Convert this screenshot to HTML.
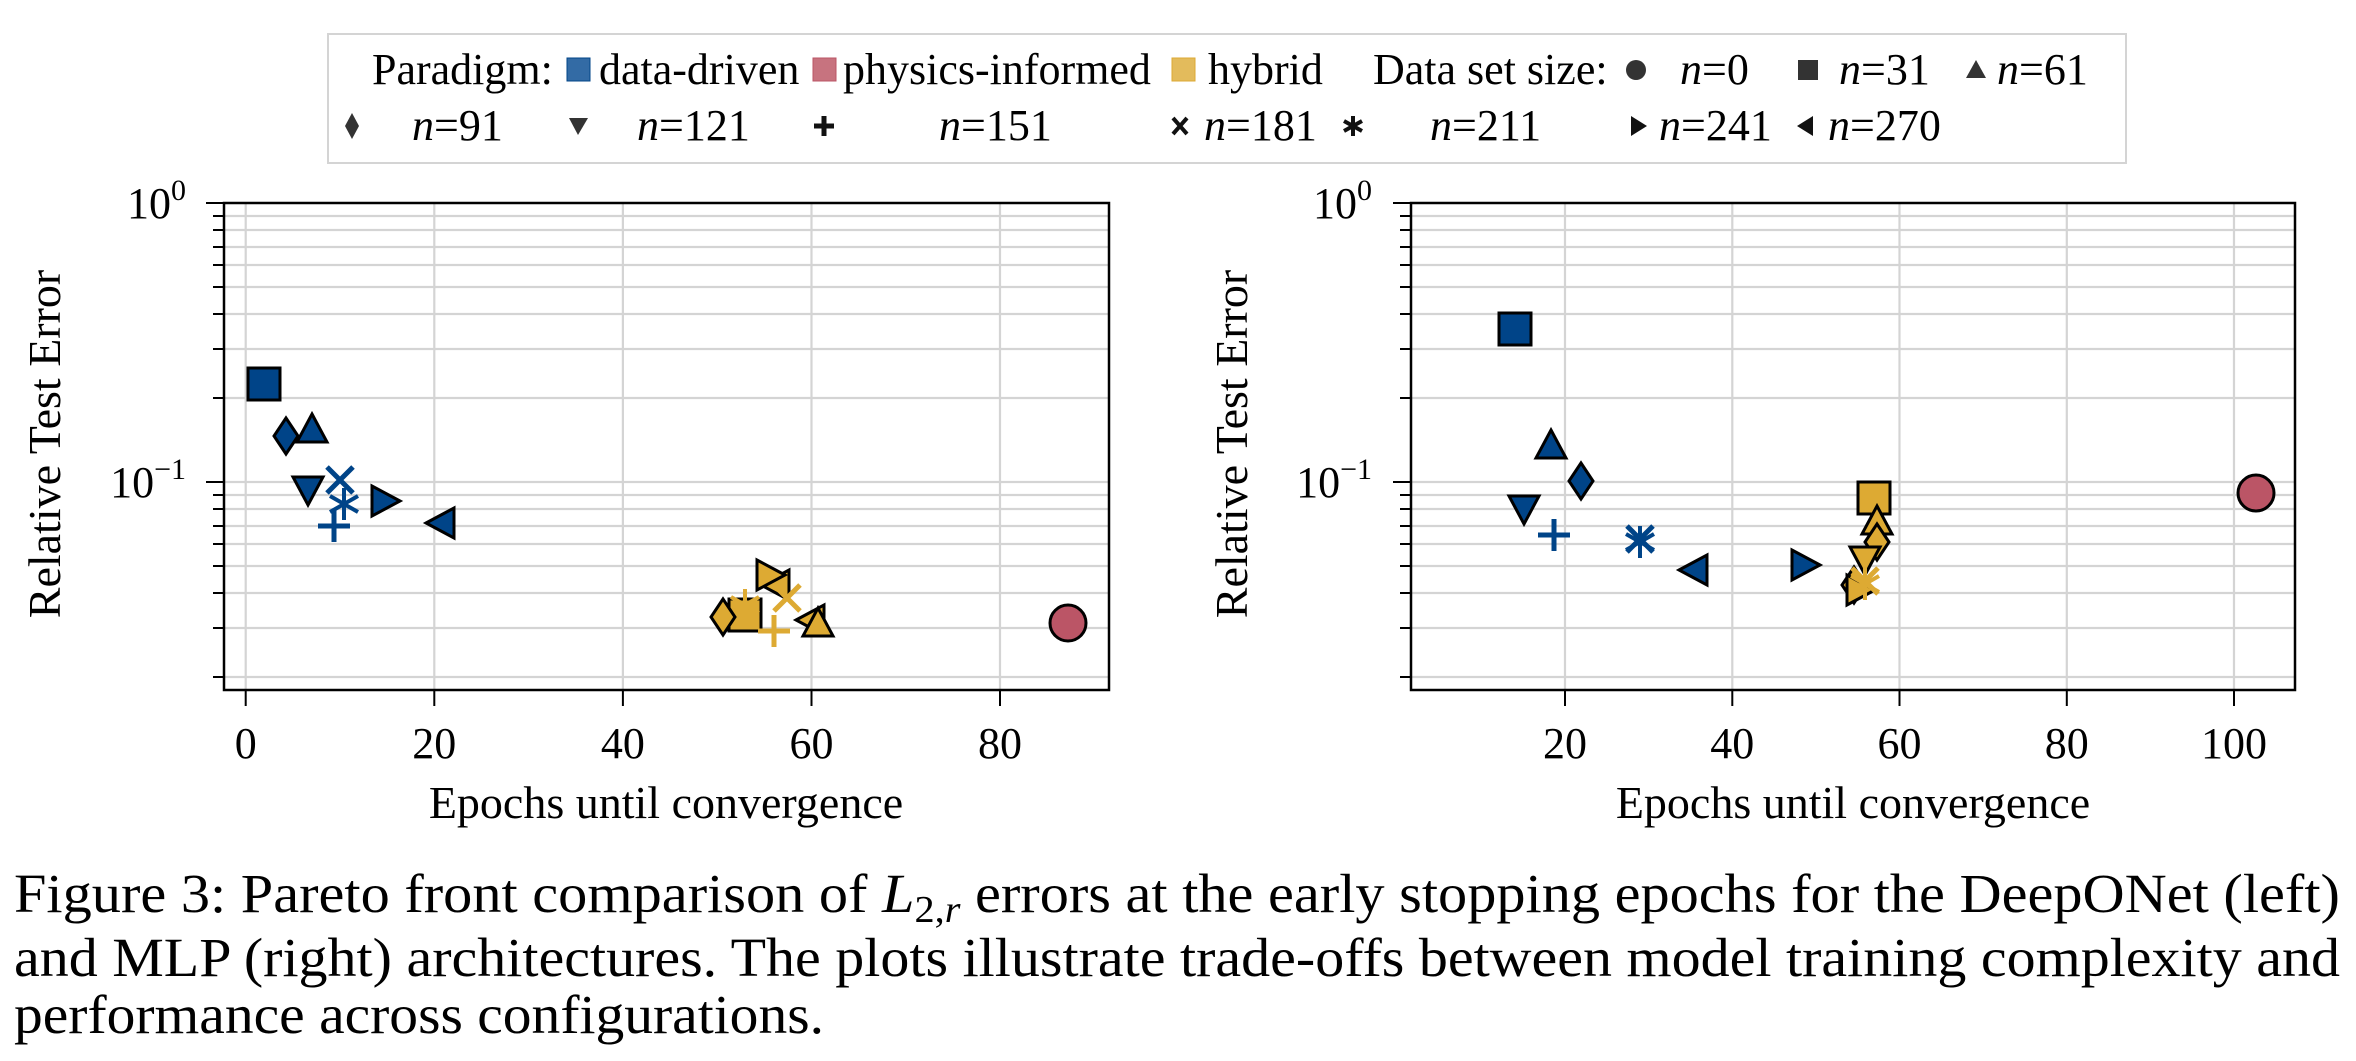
<!DOCTYPE html>
<html><head><meta charset="utf-8"><style>
html,body{margin:0;padding:0;background:#fff;}
svg{display:block;font-family:"Liberation Serif",serif;}
</style></head><body>
<svg width="2356" height="1061" viewBox="0 0 2356 1061" xmlns="http://www.w3.org/2000/svg">
<defs>
<g id="sq"><rect x="-16" y="-16" width="32" height="32" stroke="#000" stroke-width="3"/></g>
<g id="di"><polygon points="0,-18 12,0 0,18 -12,0" stroke="#000" stroke-width="3"/></g>
<g id="tu"><polygon points="0,-17 15,11 -15,11" stroke="#000" stroke-width="3"/></g>
<g id="td"><polygon points="0,17 15,-11 -15,-11" stroke="#000" stroke-width="3"/></g>
<g id="tr"><polygon points="17,0 -11,-15 -11,15" stroke="#000" stroke-width="3"/></g>
<g id="tl"><polygon points="-17,0 11,-15 11,15" stroke="#000" stroke-width="3"/></g>
<g id="ci"><circle r="18" stroke="#000" stroke-width="3"/></g>
<g id="pl"><path d="M-16,0H16M0,-16V16" stroke-width="5"/></g>
<g id="xx"><path d="M-13,-13L13,13M-13,13L13,-13" stroke-width="5"/></g>
<g id="as"><path d="M0,-16V16M-14,-8L14,8M-14,8L14,-8" stroke-width="4"/></g>
</defs>

<!-- Legend -->
<rect x="328" y="34" width="1798" height="129" fill="#fff" stroke="#d4d4d4" stroke-width="2"/>
<g font-size="44" fill="#000">
<text x="372" y="84">Paradigm:</text>
<rect x="567" y="58" width="23" height="23" fill="#336ba5" stroke="#004488" stroke-width="1"/>
<text x="599" y="84">data-driven</text>
<rect x="813" y="58" width="23" height="23" fill="#c7737f" stroke="#bb5566" stroke-width="1"/>
<text x="843" y="84">physics-informed</text>
<rect x="1172" y="58" width="23" height="23" fill="#e3bb5c" stroke="#ddaa33" stroke-width="1"/>
<text x="1208" y="84">hybrid</text>
<text x="1373" y="84">Data set size:</text>
<circle cx="1636" cy="70" r="10" fill="#333"/>
<text x="1680" y="84" font-style="italic">n<tspan font-style="normal">=0</tspan></text>
<rect x="1798" y="60" width="20" height="20" fill="#333"/>
<text x="1839" y="84" font-style="italic">n<tspan font-style="normal">=31</tspan></text>
<polygon points="1976,60 1986,78 1966,78" fill="#333"/>
<text x="1997" y="84" font-style="italic">n<tspan font-style="normal">=61</tspan></text>

<polygon points="352,113 359,126 352,139 345,126" fill="#333"/>
<text x="412" y="140" font-style="italic">n<tspan font-style="normal">=91</tspan></text>
<polygon points="569,118 588,118 578,135" fill="#333"/>
<text x="637" y="140" font-style="italic">n<tspan font-style="normal">=121</tspan></text>
<path d="M814,126H834M824,116V136" stroke="#111" stroke-width="5"/>
<text x="939" y="140" font-style="italic">n<tspan font-style="normal">=151</tspan></text>
<path d="M1173,118L1187,134M1173,134L1187,118" stroke="#111" stroke-width="4"/>
<text x="1204" y="140" font-style="italic">n<tspan font-style="normal">=181</tspan></text>
<path d="M1353,116V136M1344,121L1362,131M1344,131L1362,121" stroke="#111" stroke-width="4"/>
<text x="1430" y="140" font-style="italic">n<tspan font-style="normal">=211</tspan></text>
<polygon points="1631,116 1647,126 1631,136" fill="#111"/>
<text x="1659" y="140" font-style="italic">n<tspan font-style="normal">=241</tspan></text>
<polygon points="1813,116 1797,126 1813,136" fill="#111"/>
<text x="1828" y="140" font-style="italic">n<tspan font-style="normal">=270</tspan></text>
</g>

<!-- LEFT PLOT -->
<g stroke="#d4d4d4" stroke-width="2.2">
<path d="M224,216H1109M224,230H1109M224,247H1109M224,265H1109M224,287H1109M224,314H1109M224,349H1109M224,398H1109M224,482H1109M224,495H1109M224,509H1109M224,526H1109M224,544H1109M224,566H1109M224,593H1109M224,628H1109M224,677H1109"/>
<path d="M245.7,203V690M434.3,203V690M622.9,203V690M811.5,203V690M1000,203V690"/>
</g>
<g stroke="#000" stroke-width="2">
<path d="M213,216H224M213,230H224M213,247H224M213,265H224M213,287H224M213,314H224M213,349H224M213,398H224M213,495H224M213,509H224M213,526H224M213,544H224M213,566H224M213,593H224M213,628H224M213,677H224"/>
<path d="M206,203H224M206,482H224"/>
<path d="M245.7,690V706M434.3,690V706M622.9,690V706M811.5,690V706M1000,690V706"/>
</g>
<rect x="224" y="203" width="885" height="487" fill="none" stroke="#000" stroke-width="2.5"/>
<g font-size="44" text-anchor="middle">
<text x="245.7" y="758">0</text><text x="434.3" y="758">20</text><text x="622.9" y="758">40</text><text x="811.5" y="758">60</text><text x="1000" y="758">80</text>
<text x="666" y="818" font-size="46">Epochs until convergence</text>
<text transform="translate(60,444) rotate(-90)" font-size="46">Relative Test Error</text>
</g>
<g font-size="44" text-anchor="end">
<text x="186" y="218">10<tspan font-size="30" dy="-18">0</tspan></text>
<text x="186" y="497">10<tspan font-size="30" dy="-18">−1</tspan></text>
</g>
<g fill="#004488" stroke="#004488">
<use href="#sq" x="264" y="384"/>
<use href="#di" x="286" y="436"/>
<use href="#tu" x="312" y="431"/>
<use href="#td" x="308" y="488"/>
<use href="#xx" x="340" y="480"/>
<use href="#as" x="344" y="504"/>
<use href="#pl" x="334" y="526"/>
<use href="#tr" x="383" y="501"/>
<use href="#tl" x="443" y="523"/>
</g>
<g fill="#ddaa33" stroke="#ddaa33">
<use href="#tl" x="778" y="585"/>
<use href="#tr" x="768" y="575"/>
<use href="#xx" x="787" y="598"/>
<use href="#sq" x="745" y="615"/>
<use href="#as" x="745" y="605"/>
<use href="#di" x="723" y="617"/>
<use href="#pl" x="774" y="631"/>
<use href="#tl" x="813" y="620"/>
<use href="#tu" x="818" y="625"/>
</g>
<g fill="#bb5566"><use href="#ci" x="1068" y="623"/></g>

<!-- RIGHT PLOT -->
<g stroke="#d4d4d4" stroke-width="2.2">
<path d="M1411,216H2295M1411,230H2295M1411,247H2295M1411,265H2295M1411,287H2295M1411,314H2295M1411,349H2295M1411,398H2295M1411,482H2295M1411,495H2295M1411,509H2295M1411,526H2295M1411,544H2295M1411,566H2295M1411,593H2295M1411,628H2295M1411,677H2295"/>
<path d="M1565,203V690M1732.3,203V690M1899.5,203V690M2066.8,203V690M2234,203V690"/>
</g>
<g stroke="#000" stroke-width="2">
<path d="M1400,216H1411M1400,230H1411M1400,247H1411M1400,265H1411M1400,287H1411M1400,314H1411M1400,349H1411M1400,398H1411M1400,495H1411M1400,509H1411M1400,526H1411M1400,544H1411M1400,566H1411M1400,593H1411M1400,628H1411M1400,677H1411"/>
<path d="M1393,203H1411M1393,482H1411"/>
<path d="M1565,690V706M1732.3,690V706M1899.5,690V706M2066.8,690V706M2234,690V706"/>
</g>
<rect x="1411" y="203" width="884" height="487" fill="none" stroke="#000" stroke-width="2.5"/>
<g font-size="44" text-anchor="middle">
<text x="1565" y="758">20</text><text x="1732.3" y="758">40</text><text x="1899.5" y="758">60</text><text x="2066.8" y="758">80</text><text x="2234" y="758">100</text>
<text x="1853" y="818" font-size="46">Epochs until convergence</text>
<text transform="translate(1247,444) rotate(-90)" font-size="46">Relative Test Error</text>
</g>
<g font-size="44" text-anchor="end">
<text x="1372" y="218">10<tspan font-size="30" dy="-18">0</tspan></text>
<text x="1372" y="497">10<tspan font-size="30" dy="-18">−1</tspan></text>
</g>
<g fill="#004488" stroke="#004488">
<use href="#sq" x="1515" y="329"/>
<use href="#tu" x="1551" y="447"/>
<use href="#di" x="1581" y="481"/>
<use href="#td" x="1524" y="507"/>
<use href="#pl" x="1554" y="535"/>
<use href="#xx" x="1640" y="539"/>
<use href="#as" x="1640" y="542"/>
<use href="#tl" x="1696" y="570"/>
<use href="#tr" x="1803" y="565"/>
</g>
<g fill="#ddaa33" stroke="#ddaa33">
<use href="#sq" x="1874" y="498"/>
<use href="#tu" x="1877" y="523"/>
<use href="#di" x="1877" y="542"/>
<use href="#td" x="1865" y="558"/>
<use href="#di" x="1854" y="585"/>
<use href="#tr" x="1858" y="590"/>
<use href="#xx" x="1865" y="581"/>
<use href="#as" x="1865" y="584"/>
</g>
<g fill="#bb5566"><use href="#ci" x="2256" y="493"/></g>

<!-- Caption -->
<g font-size="55" fill="#000">
<text x="14" y="912" textLength="2326" lengthAdjust="spacingAndGlyphs">Figure 3: Pareto front comparison of <tspan font-style="italic">L</tspan><tspan font-size="38" dy="10">2,<tspan font-style="italic">r</tspan></tspan><tspan dy="-10"> errors at the early stopping epochs for the DeepONet (left)</tspan></text>
<text x="14" y="976" textLength="2326" lengthAdjust="spacingAndGlyphs">and MLP (right) architectures. The plots illustrate trade-offs between model training complexity and</text>
<text x="14" y="1033" textLength="810" lengthAdjust="spacingAndGlyphs">performance across configurations.</text>
</g>
</svg>
</body></html>
